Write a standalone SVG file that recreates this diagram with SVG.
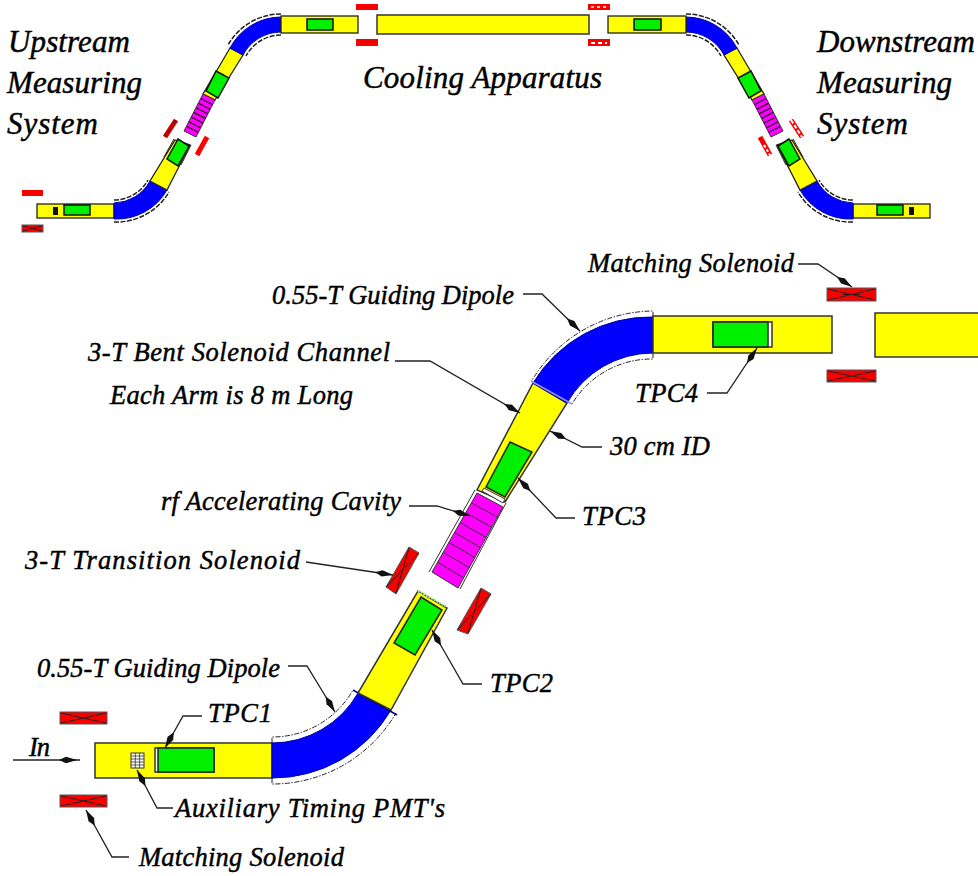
<svg xmlns="http://www.w3.org/2000/svg" width="978" height="876" viewBox="0 0 978 876">
<style>
.y{fill:#ffff00;stroke:#333;stroke-width:1.5}
.ys{fill:#ffff00;stroke:#222;stroke-width:1.3}
.b{fill:#0000ff;stroke:#0000a0;stroke-width:1}
.g{fill:#00f000;stroke:#222;stroke-width:1.5}
.gs{fill:#00f000;stroke:#111;stroke-width:1.5}
.p{fill:#ff00ff;stroke:#333;stroke-width:1}
.pl{stroke:#333;stroke-width:1;fill:none}
.psl{stroke:#401040;stroke-width:1.500;fill:none}
.r{fill:#f80000;stroke:#555;stroke-width:1}
.x{stroke:#222;stroke-width:1;fill:none}
.rail{fill:none;stroke:#222;stroke-width:1;stroke-dasharray:5 1.5 1.5 1.5}
.rails{fill:none;stroke:#222;stroke-width:1.5;stroke-dasharray:5 1.5}
.l{fill:none;stroke:#222;stroke-width:1.3}
.a{marker-end:url(#dart)}
text{font-family:"Liberation Serif","Times New Roman",serif;font-style:italic;fill:#000;stroke:#000;stroke-width:.45}
.h{font-size:31px}
.t{font-size:26.5px}
</style>
<defs>
<marker id="dart" markerUnits="userSpaceOnUse" markerWidth="20" markerHeight="9" refX="18" refY="4" orient="auto">
<path d="M0,4 L7,.8 L18,4 L7,7.2 Z" fill="#111"/>
</marker>
</defs>

<g id="small-upstream">
<path class="rails" d="M114,222 A61,61 0 0 0 169,192"/>
<path class="rails" d="M114,200 A39,39 0 0 0 148,180"/>
<path class="rails" d="M281,14 A61,61 0 0 0 228,45"/>
<path class="rails" d="M281,35 A40,40 0 0 0 246,56"/>
<rect class="ys" x="37" y="204" width="77" height="14"/>
<rect class="gs" x="64" y="205" width="26" height="10"/>
<rect x="53" y="207" width="5" height="8" fill="#111"/>
<path class="b" d="M114,203 A42,42 0 0 0 150,181 L167,190 A58,58 0 0 1 114,219 Z"/>
<polygon class="ys" points="150,181 167,190 190,145 175,140"/>
<polygon class="gs" points="178,139 189,146 178,166 167,159"/>
<path class="x" d="M174,139 L164,157 M191,145 L181,165"/>
<polygon class="ys" points="230,48 243,55 215,100 203,94"/>
<polygon class="gs" points="216,71 229,78 218,98 206,91"/>
<path class="b" d="M230,48 A58,58 0 0 1 281,17 L281,32 A43,43 0 0 0 243,55 Z"/>
<rect class="ys" x="281" y="16" width="77" height="17"/>
<rect class="gs" x="307" y="19" width="26" height="11"/>
</g>
<g id="small-upstream-cavity">
<polygon class="p" points="203,94 215,100 196,137 184,131"/>
<path class="psl" d="M201,98.6 L212.600,104.600 M198.600,103.300 L210.300,109.300 M196.300,107.900 L207.900,113.900 M193.900,112.500 L205.500,118.500 M191.500,117.100 L203.100,123.100 M189.100,121.800 L200.800,127.800 M186.800,126.400 L198.400,132.400"/>
</g>
<g id="small-upstream-solenoids">
<rect x="22" y="190" width="21" height="6" fill="#f80000"/>
<rect class="r" x="22" y="225" width="21" height="7"/>
<path class="x" d="M23,226 L42,231 M23,231 L42,226"/>
<path d="M176,120 L165,137" stroke="#d00000" stroke-width="5"/>
<path d="M176,120 L165,137" stroke="#222" stroke-width="1" stroke-dasharray="4 2"/>
<path d="M207,137 L197,155" stroke="#ff0000" stroke-width="5"/>
<rect x="356" y="4" width="22" height="6" fill="#f80000"/>
<rect x="356" y="39" width="22" height="7" fill="#f80000"/>
</g>

<g id="cooling-apparatus-channel">
<rect class="y" x="377" y="15" width="212" height="19"/>
</g>

<g id="small-downstream" transform="matrix(-1 0 0 1 967 0)">
<path class="rails" d="M114,222 A61,61 0 0 0 169,192"/>
<path class="rails" d="M114,200 A39,39 0 0 0 148,180"/>
<path class="rails" d="M281,14 A61,61 0 0 0 228,45"/>
<path class="rails" d="M281,35 A40,40 0 0 0 246,56"/>
<rect class="ys" x="37" y="204" width="77" height="14"/>
<rect class="gs" x="64" y="205" width="26" height="10"/>
<rect x="53" y="207" width="5" height="8" fill="#111"/>
<path class="b" d="M114,203 A42,42 0 0 0 150,181 L167,190 A58,58 0 0 1 114,219 Z"/>
<polygon class="ys" points="150,181 167,190 190,145 175,140"/>
<polygon class="gs" points="178,139 189,146 178,166 167,159"/>
<path class="x" d="M174,139 L164,157 M191,145 L181,165"/>
<polygon class="ys" points="230,48 243,55 215,100 203,94"/>
<polygon class="gs" points="216,71 229,78 218,98 206,91"/>
<path class="b" d="M230,48 A58,58 0 0 1 281,17 L281,32 A43,43 0 0 0 243,55 Z"/>
<rect class="ys" x="281" y="16" width="78" height="17"/>
<rect class="gs" x="306" y="19" width="27" height="11"/>
</g>
<g id="small-downstream-cavity" transform="matrix(-1 0 0 1 967 0)">
<polygon class="p" points="203,94 215,100 196,137 184,131"/>
<path class="psl" d="M201,98.6 L212.600,104.600 M198.600,103.300 L210.300,109.300 M196.300,107.900 L207.900,113.900 M193.900,112.500 L205.500,118.500 M191.500,117.100 L203.100,123.100 M189.100,121.800 L200.800,127.800 M186.800,126.400 L198.400,132.400"/>
</g>
<g id="small-downstream-solenoids">
<rect x="588" y="4" width="22" height="6" fill="#f80000"/>
<path d="M591,7 H607" stroke="#fff" stroke-width="1.500" stroke-dasharray="3 3"/>
<rect x="588" y="39" width="22" height="7" fill="#f80000"/>
<path d="M591,43 H607" stroke="#fff" stroke-width="2" stroke-dasharray="4 3"/>
<path d="M791,120 L802,137" stroke="#f80000" stroke-width="5"/>
<path d="M791,120 L802,137" stroke="#fff" stroke-width="2" stroke-dasharray="4 2"/>
<path d="M760,137 L770,155" stroke="#f80000" stroke-width="5"/>
<path d="M764,145 L770,155" stroke="#fff" stroke-width="2" stroke-dasharray="3 2"/>
</g>

<g id="lower-arm-in">
<rect class="y" x="95" y="743" width="177" height="35"/>
</g>
<g id="tpc1">
<rect x="155" y="748" width="59" height="24" fill="#fff" stroke="#333" stroke-width="1.500"/>
<rect class="g" x="158" y="748" width="56" height="24"/>
</g>
<g id="auxiliary-timing-pmts">
<rect x="131" y="753" width="13" height="15" fill="#fff" stroke="#333" stroke-width="1"/>
<path d="M131,756 H144 M131,759 H144 M131,762 H144 M131,765 H144 M135.300,753 V768 M139.600,753 V768" stroke="#333" stroke-width=".8" fill="none"/>
</g>
<g id="dipole-lower">
<path class="rail" d="M272,778 V784 A143,143 0 0 0 396,713"/>
<path class="rail" d="M272,743 V737 A93,93 0 0 0 353,690"/>
<path class="b" d="M272,743 A99,99 0 0 0 358,693 L391,710 A137,137 0 0 1 272,778 Z"/>
<path d="M353,690 L397,715" stroke="#000090" stroke-width="1.500"/>
</g>
<g id="arm-lower">
<polygon class="y" points="358,693 391,710 447,608 418,591"/>
<path d="M418,591 L447,607" stroke="#a0f080" stroke-width="2" stroke-dasharray="2 1"/>
</g>
<g id="tpc2">
<polygon class="g" points="421,597 442,610 415,655 394,643"/>
</g>
<g id="rf-cavity">
<polygon class="y" points="533,383 567,403 505,502 477,490"/>
<polygon points="484,488 505,499 503,503 482,491" fill="#fff" stroke="#333" stroke-width="1"/>
<path d="M475,490 L429,572 M506,503 L460,589" fill="none" stroke="#333" stroke-width="1"/>
<polygon class="p" points="477,493 503,507 458,588 432,572"/>
<path class="pl" d="M471.400,502.900 L497.400,517.100 M465.800,512.800 L491.800,527.300 M460.100,522.600 L486.100,537.400 M454.500,532.500 L480.500,547.500 M448.900,542.400 L474.900,557.600 M443.300,552.300 L469.300,567.800 M437.600,562.100 L463.600,577.900"/>
</g>
<g id="tpc3">
<polygon class="g" points="510,442 532,452 505,497 486,487"/>
</g>
<g id="dipole-upper">
<path class="rail" d="M653,317 V311 A143,143 0 0 0 531,382"/>
<path class="rail" d="M653,353 V359 A93,93 0 0 0 572,404"/>
<path class="b" d="M533,383 A137,137 0 0 1 653,317 L653,353 A99,99 0 0 0 567,403 Z"/>
<path d="M531,381 L572,404" stroke="#9090f0" stroke-width="1.500"/>
</g>
<g id="arm-upper-right">
<rect class="y" x="653" y="316" width="179" height="37"/>
</g>
<g id="tpc4">
<rect x="713" y="322" width="59" height="25" fill="#fff" stroke="#333" stroke-width="1.500"/>
<rect class="g" x="713" y="322" width="55" height="25"/>
</g>
<g id="channel-right">
<rect class="y" x="875" y="313" width="110" height="44"/>
</g>
<g id="matching-solenoid-upper">
<rect class="r" x="827" y="288" width="49" height="13"/>
<path class="x" d="M828,289 L875,300 M828,300 L875,289 M843,294.500 H860"/>
</g>
<g id="matching-solenoid-upper-2">
<rect class="r" x="827" y="370" width="49" height="12"/>
<path class="x" d="M828,371 L875,381 M828,381 L875,371"/>
</g>
<g id="matching-solenoid-lower">
<rect class="r" x="60" y="712" width="47" height="12"/>
<path class="x" d="M61,713 L106,723 M61,723 L106,713"/>
</g>
<g id="matching-solenoid-lower-2">
<rect class="r" x="60" y="795" width="47" height="12"/>
<path class="x" d="M61,796 L106,806 M61,806 L106,796"/>
</g>
<g id="transition-solenoid-1">
<polygon class="r" points="409,547 419,553 396,594 386,587"/>
<path class="x" d="M409,548 L396,593 M419,553 L386,587"/>
</g>
<g id="transition-solenoid-2">
<polygon class="r" points="481,588 491,594 468,634 457,630"/>
<path class="x" d="M481,589 L468,633 M491,594 L458,629"/>
</g>

<g id="connectors">
<path class="l a" d="M798,264 H818 L852,287"/>
<path class="l a" d="M523,294 H542 L580,331"/>
<path class="l a" d="M395,361 H430 L520,413"/>
<path class="l a" d="M602,447 H582 L550,431"/>
<path class="l a" d="M707,393 H727 L757,348"/>
<path class="l a" d="M409,506 H437 L470,516"/>
<path class="l a" d="M575,518 H556 L518,478"/>
<path class="l a" d="M306,562 L393,575"/>
<path class="l a" d="M482,684 H463 L432,630"/>
<path class="l a" d="M288,666 H307 L335,712"/>
<path class="l a" d="M202,716 H183 L165,748"/>
<path class="l" d="M13,760 H80"/>
<path d="M59,760 L66,756.800 L77,760 L66,763.200 Z" fill="#111"/>
<path class="l a" d="M173,808 H157 L137,770"/>
<path class="l a" d="M129,857 H112 L86,810"/>
</g>

<g id="labels">
<text class="h" x="8" y="52" textLength="122">Upstream</text>
<text class="h" x="7" y="93" textLength="135">Measuring</text>
<text class="h" x="7" y="134" textLength="91">System</text>
<text class="h" x="363" y="88" textLength="239">Cooling Apparatus</text>
<text class="h" x="817" y="52" textLength="158">Downstream</text>
<text class="h" x="817" y="93" textLength="135">Measuring</text>
<text class="h" x="817" y="134" textLength="91">System</text>
<text class="t" x="588" y="272" textLength="206">Matching Solenoid</text>
<text class="t" x="272" y="304" textLength="242">0.55-T Guiding Dipole</text>
<text class="t" x="88" y="361" textLength="302">3-T Bent Solenoid Channel</text>
<text class="t" x="110" y="404" textLength="243">Each Arm is 8 m Long</text>
<text class="t" x="610" y="455" textLength="100">30 cm ID</text>
<text class="t" x="635" y="402" textLength="63">TPC4</text>
<text class="t" x="161" y="510" textLength="240">rf Accelerating Cavity</text>
<text class="t" x="582" y="525" textLength="64">TPC3</text>
<text class="t" x="25" y="569" textLength="275">3-T Transition Solenoid</text>
<text class="t" x="490" y="692" textLength="63">TPC2</text>
<text class="t" x="37" y="677" textLength="243">0.55-T Guiding Dipole</text>
<text class="t" x="208" y="722" textLength="64">TPC1</text>
<text class="t" x="29" y="756" textLength="21">In</text>
<text class="t" x="175" y="817" textLength="270">Auxiliary Timing PMT's</text>
<text class="t" x="139" y="866" textLength="205">Matching Solenoid</text>
</g>
</svg>
